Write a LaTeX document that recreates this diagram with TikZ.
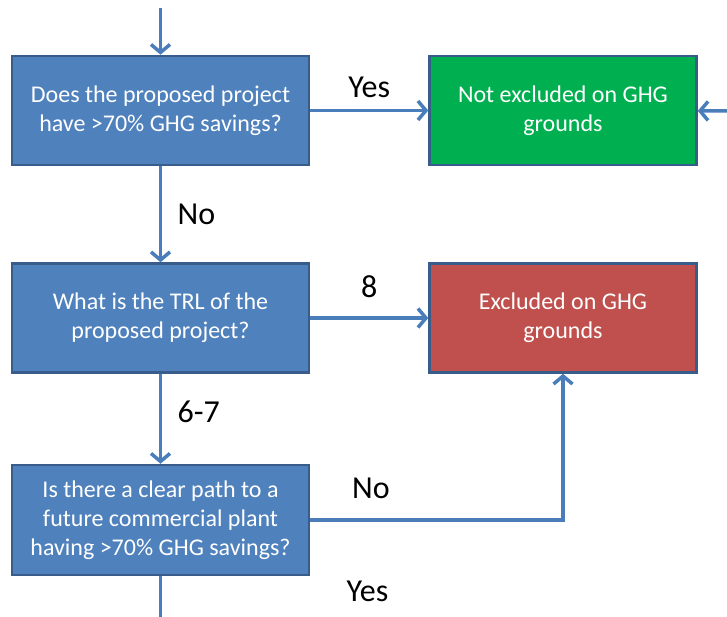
\documentclass[tikz,border=0pt]{standalone}
\usepackage{fontspec}
\setmainfont{Carlito}
\usetikzlibrary{positioning}
\usetikzlibrary{arrows.meta}
\definecolor{boxblue}{HTML}{4F81BD}
\definecolor{boxedge}{HTML}{385D8A}
\definecolor{boxgreen}{HTML}{00B050}
\definecolor{boxred}{HTML}{C0504D}
\definecolor{linkblue}{HTML}{4A7EBB}
\begin{document}
\begin{tikzpicture}[x=1pt, y=1pt,
	box/.style={draw=boxedge, line width=2.5pt, text=white, align=center, inner sep=0pt, minimum width=297pt, minimum height=109pt, font=\fontsize{24}{29}\selectfont},
	link/.style={draw=linkblue, line width=3.5pt},
	lbl/.style={font=\fontsize{32}{36}\selectfont}]
	\useasboundingbox (0,0) rectangle (727,-617);
	\node[box, fill=boxblue] (savings) at (160.5,-110.5) {Does the proposed project\\have >70\% GHG savings?};
	\node[box, fill=boxgreen, right=118pt of savings, minimum width=267pt] (notexcl) {Not excluded on GHG\\grounds};
	\node[box, fill=boxblue, below=96pt of savings] (trl) {What is the TRL of the\\proposed project?};
	\node[box, fill=boxred, right=118pt of trl, minimum width=267pt] (excl) {Excluded on GHG\\grounds};
	\node[box, fill=boxblue, below=90pt of trl, minimum height=110pt] (path) {Is there a clear path to a\\future commercial plant\\having >70\% GHG savings?};
	\coordinate (in) at (160.5,-8);
	\coordinate (back) at (727,-111);
	\coordinate (out) at (160.5,-617);
	\draw[link, -{Straight Barb[length=8pt,width=19pt]}] (in) -- (savings);
	\draw[link, -{Straight Barb[length=8pt,width=19pt]}] (savings) -- node[lbl, above=8pt] {Yes} (notexcl);
	\draw[link, -{Straight Barb[length=8pt,width=19pt]}] (back) -- (notexcl);
	\draw[link, -{Straight Barb[length=8pt,width=19pt]}] (savings) -- node[lbl, right=12pt] {No} (trl);
	\draw[link, -{Straight Barb[length=8pt,width=19pt]}] (trl) -- node[lbl, above=15pt] {8} (excl);
	\draw[link, -{Straight Barb[length=8pt,width=19pt]}] (trl) -- node[lbl, pos=0.42, right=12pt] {6-7} (path);
	\draw[link, -{Straight Barb[length=8pt,width=19pt]}] (path) -| node[lbl, pos=0.12, above=16pt] {No} (excl);
	\draw[link] (path) -- node[lbl, pos=0.37, xshift=207pt] {Yes} (out);
\end{tikzpicture}
\end{document}
